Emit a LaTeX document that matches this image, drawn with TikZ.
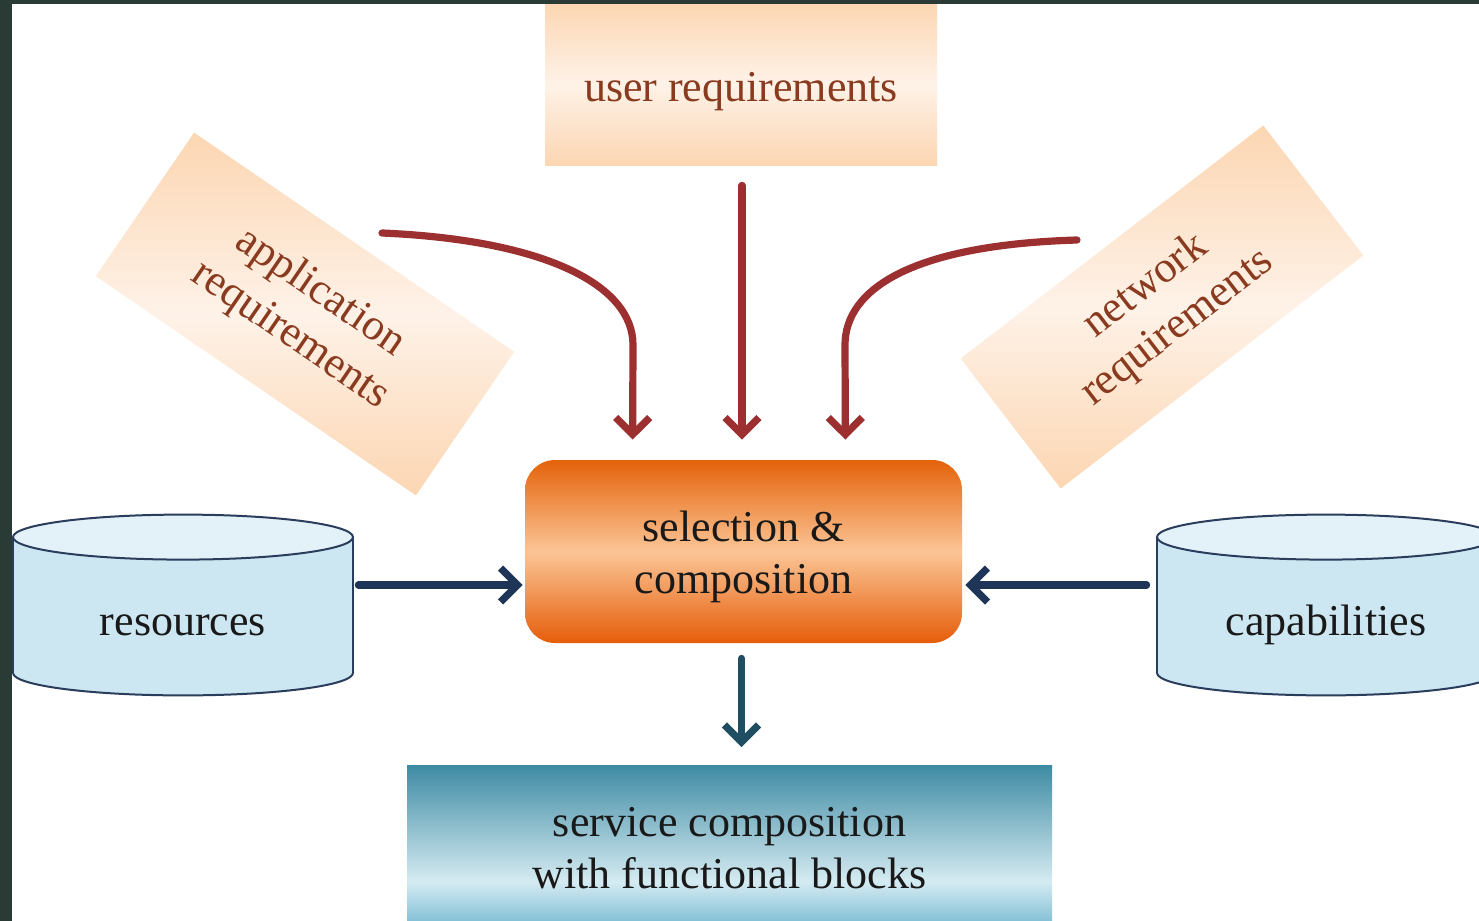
\documentclass[tikz,border=0pt]{standalone}
\usepackage{fontspec}
\setmainfont{Liberation Serif}
\usetikzlibrary{arrows.meta,calc}
\definecolor{framec}{HTML}{2A3A35}
\definecolor{peachD}{HTML}{FCD6B2}
\definecolor{peachL}{HTML}{FEF2E8}
\definecolor{reqtext}{HTML}{8A3B1F}
\definecolor{orD}{HTML}{E4620A}
\definecolor{orL}{HTML}{FBC596}
\definecolor{cylbody}{HTML}{CDE7F2}
\definecolor{cyltop}{HTML}{E3F1F8}
\definecolor{cylline}{HTML}{2B3D5C}
\definecolor{arrred}{HTML}{9C2F2F}
\definecolor{arrnavy}{HTML}{1E3557}
\definecolor{arrteal}{HTML}{1F4E63}
\definecolor{svcT}{HTML}{3F8BA4}
\definecolor{svcL}{HTML}{D5EBF2}
\definecolor{svcB}{HTML}{6FB6CF}
\pgfdeclareverticalshading{svcshade}{100bp}{color(0bp)=(svcB); color(25bp)=(svcB); color(40bp)=(svcL); color(75bp)=(svcT); color(100bp)=(svcT)}
\tikzset{
  reqbox/.style={top color=peachD, bottom color=peachD, middle color=peachL, text=reqtext, font=\fontsize{22}{26}\selectfont, align=center, inner sep=0pt},
  selbox/.style={rounded corners=15pt, top color=orD, bottom color=orD!95!red, middle color=orL, text=black!90, font=\fontsize{22}{26}\selectfont, align=center, inner sep=0pt},
  cyltxt/.style={text=black!90, font=\fontsize{22}{26}\selectfont},
  cyl/.style={fill=cylbody, draw=cylline, line width=1pt},
  cyltopst/.style={fill=cyltop, draw=cylline, line width=1pt},
  barb/.style={-{Straight Barb[length=8.5pt, width=17pt]}},
  redarr/.style={draw=arrred, line width=3.6pt, line cap=round, barb},
  navyarr/.style={draw=arrnavy, line width=3.6pt, line cap=round, barb},
  tealarr/.style={draw=arrteal, line width=3.6pt, line cap=round, barb},
}
\begin{document}
\begin{tikzpicture}[x=0.5pt,y=-0.5pt]
\useasboundingbox (0,0) rectangle (1479,921);
\clip (0,0) rectangle (1479,921);
\fill[white] (0,0) rectangle (1479,921);

% requirement boxes
\node[reqbox, minimum width=196pt, minimum height=81pt] (user) at (741,84) {\raisebox{-4pt}[\height][\depth]{user requirements}};
\node[reqbox, rotate=-34.4, minimum width=194pt, minimum height=87pt] (app) at (305,314) {application\\requirements};
\node[reqbox, rotate=37.6, minimum width=191pt, minimum height=82pt] (net) at (1162,307) {network\\requirements};

% selection box
\node[selbox, minimum width=218.5pt, minimum height=91.5pt] (sel) at (743.5,551.5) {\raisebox{-3pt}[\height][\depth]{\begin{tabular}{@{}c@{}}selection \&\\composition\end{tabular}}};

% service box
\node[shading=svcshade, minimum width=322.5pt, minimum height=83pt, anchor=north, inner sep=0pt, text=black!90, font=\fontsize{22}{26}\selectfont, align=center] (svc) at (729.5,765) {service composition\\with functional blocks};

% resources cylinder
\node[minimum width=170pt, minimum height=67.5pt, inner sep=0pt] (res) at (183,605) {};
\fill[cyl] (res.south) ellipse [x radius=170, y radius=22.5];
\fill[cylbody] (res.north west) rectangle (res.south east);
\draw[cylline, line width=1pt] (res.north west) -- (res.south west) (res.north east) -- (res.south east);
\draw[cyltopst] (res.north) ellipse [x radius=170, y radius=22.5];
\node[cyltxt] (restxt) at ($(res.center)+(0,20)$) {resources};

% capabilities cylinder
\node[minimum width=169pt, minimum height=67.5pt, inner sep=0pt] (cap) at (1326,605) {};
\fill[cyl] (cap.south) ellipse [x radius=169, y radius=22.5];
\fill[cylbody] (cap.north west) rectangle (cap.south east);
\draw[cylline, line width=1pt] (cap.north west) -- (cap.south west) (cap.north east) -- (cap.south east);
\draw[cyltopst] (cap.north) ellipse [x radius=169, y radius=22.5];
\node[cyltxt] (captxt) at ($(cap.center)+(0,20)$) {capabilities};

% red arrows
\coordinate (a1) at (382,233);
\coordinate (a3) at (1077,240);
\draw[redarr] (a1) .. controls (545,240) and (633,285) .. (633,345) -- ($(sel.north west)+(108,-20)$);
\draw[redarr] ($(user.south)+(1,20)$) -- ($(user.south |- sel.north)+(1,-20)$);
\draw[redarr] (a3) .. controls (910,245) and (845,290) .. (845,345) -- ($(sel.north east)+(-117,-20)$);

% navy arrows
\draw[navyarr] ($(res.east)+(5,-20)$) -- ($(res.east -| sel.west)+(-2,-20)$);
\draw[navyarr] ($(cap.west)+(-10,-20)$) -- ($(cap.west -| sel.east)+(3,-20)$);
\draw[tealarr] ($(sel.south)+(-2,15)$) -- ($(sel.south |- svc.north)+(-2,-18)$);

% frame
\fill[framec] (0,0) rectangle (12,921);
\fill[framec] (0,0) rectangle (1479,4);
\end{tikzpicture}
\end{document}
